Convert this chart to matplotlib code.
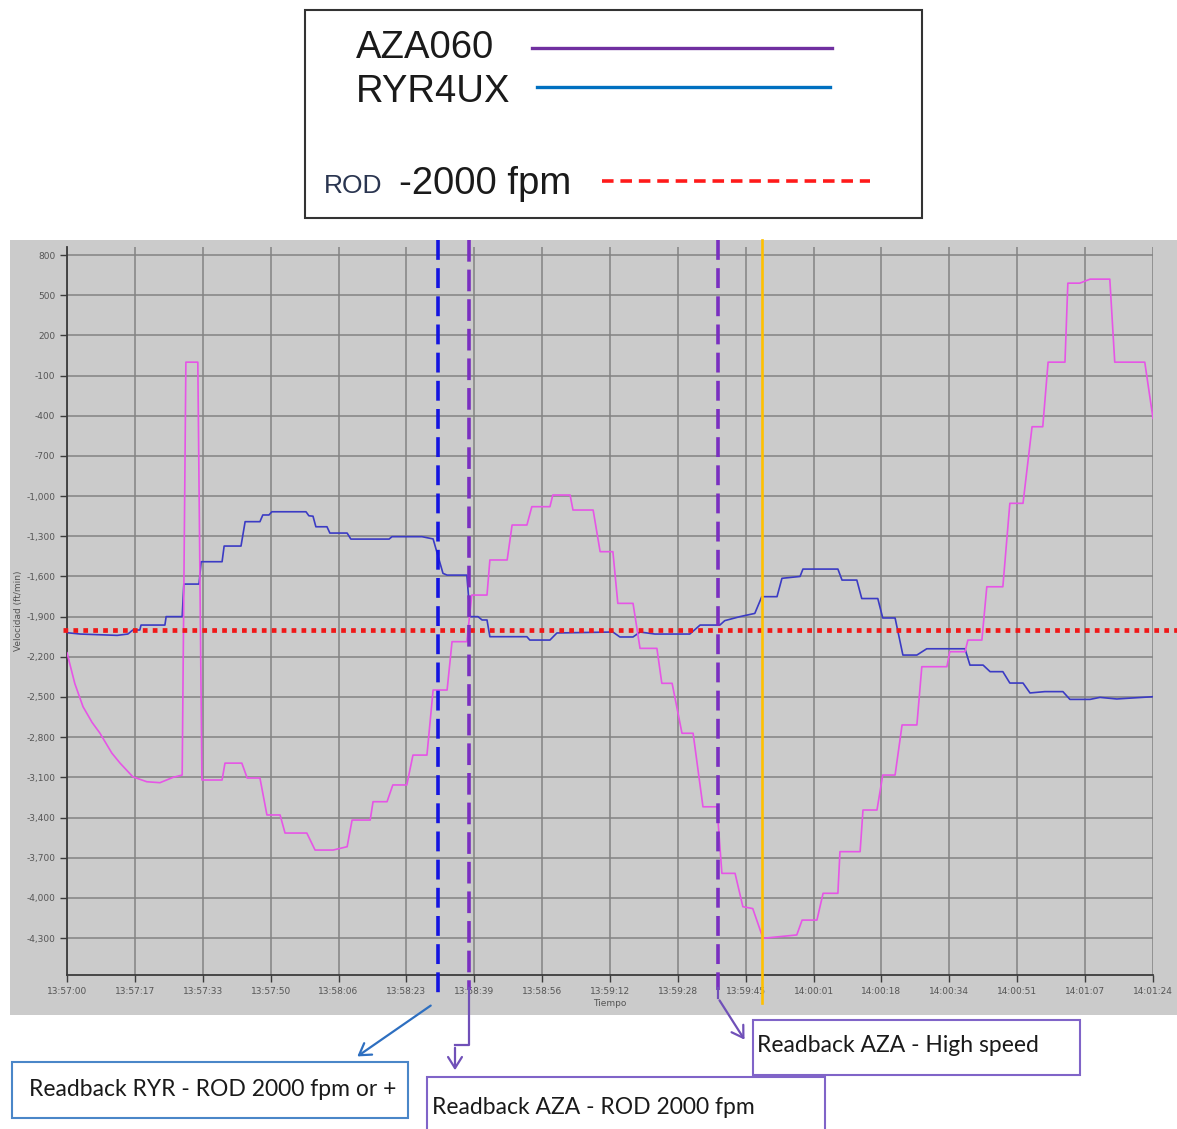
"""Vertical speed vs time, AZA060 / RYR4UX readback chart."""

import matplotlib
matplotlib.use('Agg')
import matplotlib.pyplot as plt
from matplotlib.patches import Rectangle, FancyArrowPatch
from matplotlib.lines import Line2D

W, H = 1177, 1129

# seconds after 13:57:00
t_tick = [0, 16.5, 33, 49.5, 66, 82.5, 99, 115.5, 132, 148.5, 165, 181.5,
          198, 214.5, 231, 247.5, 264]
t_lab = ['13:57:00', '13:57:17', '13:57:33', '13:57:50', '13:58:06', '13:58:23',
         '13:58:39', '13:58:56', '13:59:12', '13:59:28', '13:59:45', '14:00:01',
         '14:00:18', '14:00:34', '14:00:51', '14:01:07', '14:01:24']
v_tick = [800, 500, 200, -100, -400, -700, -1000, -1300, -1600, -1900, -2200,
          -2500, -2800, -3100, -3400, -3700, -4000, -4300]

# RYR4UX (blue trace in chart)
ryr_t = [0, 3.2, 12.2, 14.8, 16.0, 17.7, 18.0, 23.8, 24.1, 28.0, 28.4, 32.1, 32.6,
         37.7, 38.2, 42.3, 43.3, 46.9, 47.6, 49.1, 49.8, 58.1, 58.8, 59.8, 60.5,
         63.2, 63.9, 68.1, 69.0, 78.3, 79.0, 86.3, 89.0, 91.4, 92.4, 97.2, 98.0,
         99.9, 100.9, 102.1, 102.8, 111.8, 112.5, 117.4, 119.1, 132.7, 134.4,
         137.6, 139.3, 142.9, 151.4, 153.9, 158.7, 159.9, 163.6, 167.2, 168.9,
         172.6, 173.8, 178.2, 178.9, 187.4, 188.4, 192.0, 193.2, 197.1, 198.3,
         201.3, 203.2, 206.6, 209.0, 218.3, 219.5, 222.7, 224.4, 227.5, 229.2,
         232.4, 234.1, 237.7, 242.1, 243.8, 248.7, 251.1, 255.2, 257.7, 264.0]
ryr_v = [-2020, -2030, -2040, -2030, -2000, -2000, -1963, -1963, -1900, -1900,
         -1657, -1657, -1490, -1490, -1373, -1373, -1191, -1191, -1141, -1141,
         -1117, -1117, -1147, -1150, -1229, -1229, -1276, -1276, -1321, -1321,
         -1303, -1303, -1320, -1577, -1590, -1590, -1900, -1900, -1925, -1925,
         -2050, -2050, -2075, -2075, -2022, -2015, -2052, -2052, -2015, -2030,
         -2030, -1963, -1963, -1930, -1900, -1876, -1751, -1751, -1614, -1600,
         -1545, -1545, -1627, -1627, -1765, -1765, -1910, -1910, -2187, -2187,
         -2140, -2140, -2262, -2262, -2311, -2311, -2396, -2396, -2470, -2460,
         -2460, -2518, -2518, -2503, -2515, -2510, -2498]

# AZA060 (magenta trace in chart)
aza_t = [0, 1.9, 3.9, 6.1, 8.0, 10.9, 12.9, 16.0, 19.4, 22.6, 25.8, 28.0, 28.9,
         31.8, 32.8, 37.7, 38.4, 42.5, 43.8, 46.9, 48.6, 51.8, 53.0, 58.3, 60.3,
         64.7, 68.1, 69.3, 73.7, 74.4, 77.8, 79.2, 82.6, 84.1, 87.5, 89.0, 92.4,
         93.6, 97.2, 98.4, 102.1, 102.8, 107.0, 108.2, 111.8, 113.0, 117.4, 118.1,
         122.3, 123.0, 127.9, 129.6, 132.7, 133.9, 137.6, 139.3, 143.4, 144.6,
         147.1, 149.5, 152.2, 154.6, 158.0, 159.2, 162.4, 164.3, 166.7, 169.2,
         177.4, 178.7, 182.3, 183.8, 187.4, 187.9, 192.8, 193.5, 196.9, 198.3,
         201.3, 203.0, 206.6, 207.8, 213.9, 214.6, 218.3, 219.0, 222.4, 223.6,
         227.5, 229.2, 232.4, 234.6, 237.2, 238.5, 242.6, 243.3, 246.2, 248.7,
         253.5, 254.7, 262.0, 264.0]
aza_v = [-2170, -2400, -2573, -2690, -2770, -2919, -2994, -3096, -3133, -3140,
         -3100, -3083, 0, 0, -3120, -3120, -2994, -2994, -3105, -3105, -3381,
         -3381, -3516, -3516, -3643, -3643, -3618, -3419, -3419, -3282, -3282,
         -3157, -3157, -2934, -2934, -2448, -2448, -2087, -2087, -1739, -1739,
         -1477, -1477, -1216, -1216, -1079, -1079, -992, -992, -1104, -1104,
         -1415, -1415, -1801, -1801, -2137, -2137, -2398, -2398, -2771, -2771,
         -3320, -3320, -3817, -3817, -4066, -4080, -4302, -4277, -4166, -4166,
         -3966, -3966, -3655, -3655, -3344, -3344, -3083, -3083, -2709, -2709,
         -2274, -2274, -2162, -2162, -2075, -2075, -1677, -1677, -1054, -1054,
         -482, -482, 0, 0, 590, 590, 620, 620, 0, 0, -420]

rod_limit = -2000
readback_ryr = 90.2
readback_aza = 97.7
readback_aza_fast = 158.2
marker_orange = 168.9


def fx(x):
    return x / W


def fy(y):
    return 1 - y / H


fig = plt.figure(figsize=(W / 100, H / 100), dpi=100)
fig.patch.set_facecolor('white')

# grey plot background panel
fig.add_artist(Rectangle((fx(10), fy(1015)), (1177 - 10) / W, (1015 - 240) / H,
                         transform=fig.transFigure, facecolor='#cbcbcb',
                         edgecolor='none', zorder=0))

ax = fig.add_axes([fx(67), fy(975), (1153 - 67) / W, (975 - 247) / H])
ax.set_facecolor('#cbcbcb')
ax.set_xlim(0, 264)
ax.set_ylim(-4576, 860)
for side in ('top', 'right'):
    ax.spines[side].set_visible(False)
for side in ('left', 'bottom'):
    ax.spines[side].set_color('#3c3c3c')
    ax.spines[side].set_linewidth(1.3)
ax.set_xticks(t_tick)
ax.set_xticklabels(t_lab)
ax.set_yticks(v_tick)
ax.set_yticklabels([f'{v:,}' for v in v_tick])
ax.tick_params(labelsize=6.5, colors='#3c3c3c', labelcolor='#555555',
               length=5, width=1)
ax.grid(True, color='#838383', linewidth=1.1)
ax.set_axisbelow(True)
ax.set_xlabel('Tiempo', fontsize=6.5, color='#555555', labelpad=2)
ax.set_ylabel('Velocidad (ft/min)', fontsize=6.5, color='#555555', labelpad=2)

ax.plot(ryr_t, ryr_v, color='#3b3bc4', lw=1.2, zorder=3)
ax.plot(aza_t, aza_v, color='#e655e6', lw=1.2, zorder=3)

# ROD limit, runs a little past the axis
ax.plot([-1, 269.8], [rod_limit, rod_limit], color='#f01818', lw=3.4,
        dashes=(1, 1.1), clip_on=False, zorder=4)

# readback markers
ytop, ybot = 912, -4690
ax.plot([readback_ryr] * 2, [ytop, -4760], color='#1414e0', lw=2.6,
        dashes=(5.5, 2.3), clip_on=False, zorder=5)
ax.plot([readback_aza] * 2, [ytop, ybot], color='#7a2fc0', lw=2.6,
        dashes=(6, 2.2), clip_on=False, zorder=5)
ax.plot([readback_aza_fast] * 2, [ytop, ybot], color='#7a2fc0', lw=2.6,
        dashes=(5.5, 2.3), clip_on=False, zorder=5)
ax.plot([marker_orange] * 2, [ytop, -4785], color='#ffc000', lw=1.9,
        clip_on=False, zorder=5)

# legend box
fig.add_artist(Rectangle((fx(305), fy(218)), (922 - 305) / W, (218 - 10) / H,
                         transform=fig.transFigure, facecolor='white',
                         edgecolor='#333333', lw=1.5))
lfont = dict(family='Liberation Sans', fontsize=27.5, color='#1a1a1a', va='center')
fig.text(fx(356), fy(48), 'AZA060', **lfont)
fig.text(fx(356), fy(92), 'RYR4UX', **lfont)
fig.text(fx(399), fy(184), '-2000 fpm', **lfont)
fig.text(fx(324), fy(186), 'ROD', family='Liberation Sans', fontsize=19,
         color='#2a3550', va='center')
fig.add_artist(Line2D([fx(532), fx(832)], [fy(48), fy(48)], color='#7030a0', lw=2.4))
fig.add_artist(Line2D([fx(537), fx(830)], [fy(87), fy(87)], color='#0070c0', lw=2.4))
fig.add_artist(Line2D([fx(602), fx(870)], [fy(181), fy(181)], color='#ff1a1a',
                      lw=2.6, dashes=(3.2, 1.9)))

# connectors below the chart
blue_c = '#2e6fc0'
purp_c = '#7050b8'
fig.add_artist(FancyArrowPatch((fx(433), fy(1004)), (fx(355), fy(1058)),
                               transform=fig.transFigure, arrowstyle='->,head_length=8,head_width=5',
                               color=blue_c, lw=1.6))
fig.add_artist(Line2D([fx(469), fx(469), fx(455)], [fy(988), fy(1045), fy(1045)],
                      color=purp_c, lw=1.6))
fig.add_artist(FancyArrowPatch((fx(455), fy(1045)), (fx(455), fy(1073)),
                               transform=fig.transFigure, arrowstyle='->,head_length=8,head_width=5',
                               color=purp_c, lw=1.6))
fig.add_artist(Line2D([fx(718), fx(718)], [fy(988), fy(998)], color=purp_c, lw=1.6))
fig.add_artist(FancyArrowPatch((fx(718), fy(998)), (fx(746), fy(1042)),
                               transform=fig.transFigure, arrowstyle='->,head_length=8,head_width=5',
                               color=purp_c, lw=1.6))

# annotation boxes
afont = dict(family='Lato', fontsize=16.5, color='#1a1a1a', va='center')
fig.add_artist(Rectangle((fx(12), fy(1118)), (408 - 12) / W, (1118 - 1062) / H,
                         transform=fig.transFigure, facecolor='white',
                         edgecolor='#4a86c8', lw=1.5))
fig.text(fx(29), fy(1090), 'Readback RYR - ROD 2000 fpm or +', **afont)
fig.add_artist(Rectangle((fx(427), fy(1140)), (825 - 427) / W, (1140 - 1077) / H,
                         transform=fig.transFigure, facecolor='white',
                         edgecolor='#8064c8', lw=1.5))
fig.text(fx(432), fy(1108), 'Readback AZA - ROD 2000 fpm', **afont)
fig.add_artist(Rectangle((fx(753), fy(1075)), (1080 - 753) / W, (1075 - 1020) / H,
                         transform=fig.transFigure, facecolor='white',
                         edgecolor='#8064c8', lw=1.5))
fig.text(fx(757), fy(1045), 'Readback AZA - High speed', **afont)

fig.savefig('out.png', dpi=100)
